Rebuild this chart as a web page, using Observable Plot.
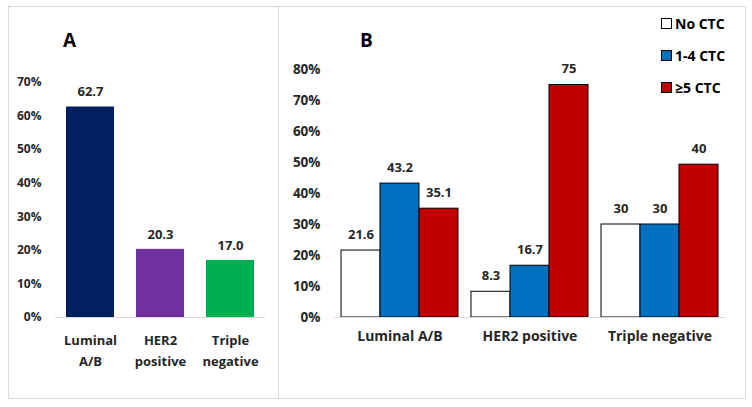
<!DOCTYPE html>
<html>
<head>
<meta charset="utf-8">
<script src="https://cdn.jsdelivr.net/npm/d3@7"></script>
<script src="https://cdn.jsdelivr.net/npm/@observablehq/plot@0.6"></script>
<style>
  body { margin: 0; background: #fff; font-family: "Open Sans", Lato, sans-serif; }
  #wrap { position: relative; width: 752px; height: 407px; background: #fff; overflow: hidden; }
  #wrap svg { position: absolute; top: 0; }
  .box { position: absolute; border: 1px solid #d9d9d9; box-sizing: border-box; }
  .panel { position: absolute; font-weight: bold; font-size: 19px; color: #000; line-height: 1; }
  .leg { position: absolute; left: 661px; font-weight: bold; font-size: 14px; color: #000; height: 14px; line-height: 14px; }
  .leg span { display: inline-block; width: 9px; height: 9px; border: 1px solid #000; vertical-align: 0px; margin-right: 3px; }
</style>
</head>
<body>
<div id="wrap">
  <div class="box" style="left:8px;top:6px;width:738px;height:393px;"></div>
  <div class="box" style="left:278px;top:6px;width:1px;height:393px;border-width:0 0 0 1px;"></div>
</div>
<script>
// ---- Data ----
const subtypes = ["Luminal A/B", "HER2 positive", "Triple negative"];
const shareA = [62.7, 20.3, 17.0];
const colorsA = ["#002060", "#7030A0", "#00B050"];

const ctcGroups = ["No CTC", "1-4 CTC", "≥5 CTC"];
const noCTC = [21.6, 8.3, 30];
const ctc1to4 = [43.2, 16.7, 30];
const ctc5plus = [35.1, 75, 49.3];
const noCTCLabels = ["21.6", "8.3", "30"];
const ctc1to4Labels = ["43.2", "16.7", "30"];
const ctc5plusLabels = ["35.1", "75", "40"];
const colorsB = ["#ffffff", "#0070C0", "#C00000"];

const ticksA = [0, 10, 20, 30, 40, 50, 60, 70];
const ticksB = [0, 10, 20, 30, 40, 50, 60, 70, 80];

// ---- Tables ----
const rowsA = subtypes.map((s, i) => ({cat: s, value: shareA[i], label: shareA[i].toFixed(1)}));
const seriesVals = [noCTC, ctc1to4, ctc5plus];
const seriesLabels = [noCTCLabels, ctc1to4Labels, ctc5plusLabels];
const rowsB = [];
subtypes.forEach((s, i) => ctcGroups.forEach((g, j) =>
  rowsB.push({cat: s, series: g, value: seriesVals[j][i], label: seriesLabels[j][i]})));

const txt = "#262626";
const font = "'Open Sans', Lato, sans-serif";

// ---- Panel A ----
const plotA = Plot.plot({
  width: 279, height: 407,
  marginLeft: 55, marginRight: 14, marginTop: 82, marginBottom: 90,
  style: {fontFamily: font, background: "transparent", overflow: "visible"},
  x: {domain: subtypes, paddingInner: 0.31, paddingOuter: 0.155, axis: null},
  y: {domain: [0, 70], axis: null},
  color: {domain: subtypes, range: colorsA},
  marks: [
    Plot.axisY({ticks: ticksA, tickSize: 0, tickPadding: 14, tickFormat: d => d + "%",
      fontSize: 12, fontWeight: "bold", fill: txt, label: null}),
    Plot.axisX({tickSize: 0, tickPadding: 13, fontSize: 13, fontWeight: "bold", fill: txt,
      lineHeight: 1.6, label: null, tickFormat: d => d.replace(" ", "\n")}),
    Plot.barY(rowsA, {x: "cat", y: "value", fill: "cat"}),
    Plot.ruleY([0], {stroke: "#d9d9d9"}),
    Plot.text(rowsA, {x: "cat", y: "value", text: "label", dy: -15,
      fontSize: 13, fontWeight: "bold", fill: txt})
  ]
});

// ---- Panel B ----
const plotB = Plot.plot({
  width: 473, height: 407,
  marginLeft: 54, marginRight: 27, marginTop: 69, marginBottom: 90,
  style: {fontFamily: font, background: "transparent", overflow: "visible"},
  fx: {domain: subtypes, paddingInner: 0.1, paddingOuter: 0.05, label: null},
  x: {domain: ctcGroups, padding: 0, axis: null},
  y: {domain: [0, 80], axis: null},
  color: {domain: ctcGroups, range: colorsB},
  marks: [
    Plot.axisY({ticks: ticksB, tickSize: 0, tickPadding: 21, tickFormat: d => d + "%",
      fontSize: 13.5, fontWeight: "bold", fill: txt, label: null}),
    Plot.axisFx({anchor: "bottom", tickSize: 0, tickPadding: 14, fontSize: 14,
      fontWeight: "bold", fill: txt, label: null}),
    Plot.barY(rowsB, {fx: "cat", x: "series", y: "value", fill: "series",
      stroke: "#000", strokeWidth: 1}),
    Plot.ruleY([0], {stroke: "#d9d9d9", insetLeft: -7, insetRight: -7}),
    Plot.text(rowsB, {fx: "cat", x: "series", y: "value", text: "label", dy: -16,
      fontSize: 13, fontWeight: "bold", fill: txt})
  ]
});

const wrap = document.getElementById("wrap");
plotA.style.left = "0px";
plotB.style.left = "279px";
wrap.appendChild(plotA);
wrap.appendChild(plotB);

function addDiv(cls, css, html) {
  const d = document.createElement("div");
  d.className = cls; d.style.cssText = css; d.innerHTML = html;
  wrap.appendChild(d);
}
addDiv("panel", "left:63px;top:31px;", "A");
addDiv("panel", "left:360px;top:31px;", "B");
ctcGroups.forEach((g, j) => {
  addDiv("leg", `top:${17 + j * 32}px;`,
    `<span style="background:${colorsB[j]}"></span>${g}`);
});
</script>
</body>
</html>
